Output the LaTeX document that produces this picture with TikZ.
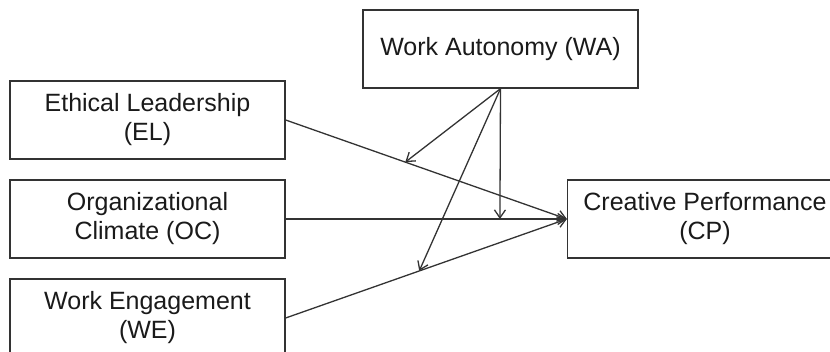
\documentclass[tikz,border=0pt]{standalone}
\usepackage{fontspec}
\setmainfont{Liberation Sans}
\usetikzlibrary{arrows.meta}
\definecolor{edge}{HTML}{333333}
\definecolor{ink}{HTML}{1A1A1A}
\begin{document}
\begin{tikzpicture}[x=1pt,y=-1pt,
  var/.style={draw=edge, line width=1.3pt, fill=white, text=ink,
    minimum width=275pt, minimum height=78pt, inner sep=0pt, align=center,
    font=\fontsize{25}{29}\selectfont},
  path/.style={draw=edge, line width=1.3pt,
    -{Straight Barb[length=8pt,width=11pt,line width=1.3pt]}}]
\useasboundingbox (0,0) rectangle (830,352);

% constructs
\node[var] (WA) at (500.5,49)   {Work Autonomy (WA)};
\node[var] (EL) at (147.5,120)  {Ethical Leadership\\(EL)};
\node[var] (OC) at (147.5,219)  {Organizational\\Climate (OC)};
\node[var] (WE) at (147.5,318)  {Work Engagement\\(WE)};
\node[var] (CP) at (705,219)    {Creative Performance\\(CP)};

% direct effects on creative performance
\draw[path] (EL.east) -- (CP.west) coordinate[pos=0.4255] (mEL);
\draw[path] (OC.east) -- (CP.west) coordinate[pos=0.762] (mOC);
\draw[path] (WE.east) -- (CP.west) coordinate[pos=0.475] (mWE);

% moderation by work autonomy
\draw[path] (WA.south) -- (mEL);
\draw[path] (WA.south) -- (mOC);
\draw[path] (WA.south) -- (mWE);
\end{tikzpicture}
\end{document}
